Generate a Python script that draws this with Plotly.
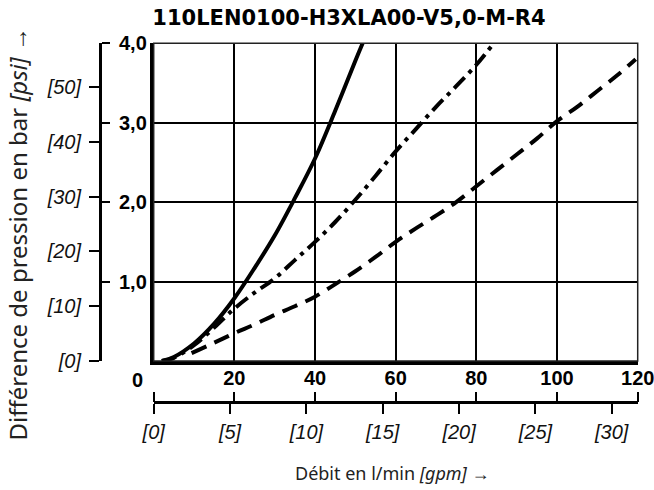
import plotly.graph_objects as go

W, H = 654, 490

# ---- data ----
solid_x = [2, 5, 10, 15, 20, 25, 30, 35, 40, 45, 50, 51.8]
solid_y = [0, 0.05, 0.22, 0.47, 0.79, 1.17, 1.58, 2.05, 2.55, 3.15, 3.78, 4.0]

dashdot_x = [2, 5, 10, 15, 20, 25, 30, 35, 40, 45, 50, 55, 60, 65, 70, 75, 80, 84.3]
dashdot_y = [0, 0.04, 0.2, 0.42, 0.66, 0.86, 1.04, 1.27, 1.5, 1.75, 2.03, 2.33, 2.64, 2.92, 3.2, 3.46, 3.73, 4.0]

dashed_x = [9.4, 15, 20, 25, 30, 35, 40, 46, 50, 55, 60, 65, 70, 75, 80, 85, 90, 95, 100, 105, 110, 115, 119.5]
dashed_y = [0.1, 0.23, 0.35, 0.46, 0.58, 0.69, 0.81, 1.0, 1.13, 1.31, 1.5, 1.67, 1.83, 2.0, 2.2, 2.4, 2.6, 2.8, 3.02, 3.2, 3.4, 3.6, 3.8]

flow_ticks = [0, 20, 40, 60, 80, 100, 120]
flow_labels = ["0", "20", "40", "60", "80", "100", "120"]
gpm_ticks = [0, 5, 10, 15, 20, 25, 30]
gpm_labels = ["[0]", "[5]", "[10]", "[15]", "[20]", "[25]", "[30]"]
bar_ticks = [1, 2, 3, 4]
bar_labels = ["1,0", "2,0", "3,0", "4,0"]
psi_ticks = [0, 10, 20, 30, 40, 50]
psi_labels = ["[0]", "[10]", "[20]", "[30]", "[40]", "[50]"]

title = "110LEN0100-H3XLA00-V5,0-M-R4"
x_title = "Débit en l/min <i>[gpm]</i> →"
y_title = "Différence de pression en bar <i>[psi]</i> →"

L_PER_GAL = 3.78541
PSI_PER_BAR = 14.5038

# ---- geometry ----
x0, x1 = 153.7, 637.7
y_top, y_bot = 43.3, 361.0
xdom = [x0 / W, x1 / W]
ydom = [(H - y_bot) / H, (H - y_top) / H]

bold_font = dict(family="Liberation Sans, Arial", size=20, color="black", weight="bold")
italic = dict(family="Liberation Sans, Arial", size=20, color="#111", style="italic")

fig = go.Figure()
fig.add_trace(go.Scatter(x=solid_x, y=solid_y, mode="lines", line=dict(color="black", width=4), line_shape="spline", showlegend=False))
fig.add_trace(go.Scatter(x=dashdot_x, y=dashdot_y, mode="lines", line=dict(color="black", width=4, dash="15px,6px,4px,6px"), line_shape="spline", showlegend=False))
fig.add_trace(go.Scatter(x=dashed_x, y=dashed_y, mode="lines", line=dict(color="black", width=4, dash="16px,9px"), line_shape="spline", showlegend=False))

# empty traces so the secondary (unit-conversion) axes get drawn
for xa, ya in [("x", "y2"), ("x", "y3"), ("x2", "y"), ("x3", "y")]:
    fig.add_trace(go.Scatter(x=[], y=[], xaxis=xa, yaxis=ya, mode="lines", showlegend=False, hoverinfo="skip"))

fig.update_layout(
    width=W, height=H,
    margin=dict(l=0, r=0, t=0, b=0, autoexpand=False),
    paper_bgcolor="white", plot_bgcolor="white",
    showlegend=False,
    title=dict(text=title, x=349 / W, y=1 - 18 / H, xanchor="center", yanchor="middle",
               automargin=False,
               font=dict(family="DejaVu Sans", size=21, color="black", weight="bold")),
    xaxis=dict(domain=xdom, range=[0, 120], tickvals=flow_ticks[1:], ticktext=flow_labels[1:],
               showgrid=True, gridcolor="black", gridwidth=1.6, showline=True, linecolor="black",
               linewidth=4, ticks="outside", ticklen=0, tickfont=bold_font, zeroline=False,
               ticklabelstandoff=-4, ticklabeloverflow="allow", anchor="y", automargin=False),
    yaxis=dict(domain=ydom, range=[0, 4], dtick=1, showgrid=True, gridcolor="black", gridwidth=1.6,
               showline=True, linecolor="black", linewidth=4, showticklabels=False, zeroline=False,
               anchor="x", automargin=False),
    yaxis2=dict(domain=ydom, overlaying="y", anchor="free", position=100 / W, side="right",
                range=[0, 4], tickvals=bar_ticks, ticktext=bar_labels, ticks="outside", ticklen=8,
                tickwidth=2, tickcolor="black", showline=True, linecolor="black", linewidth=3,
                showgrid=False, zeroline=False, tickfont=bold_font, ticklabelstandoff=5,
                automargin=False),
    yaxis3=dict(domain=ydom, overlaying="y", anchor="free", position=100 / W, side="left",
                range=[0, 4 * PSI_PER_BAR], tickvals=psi_ticks, ticktext=psi_labels, ticks="outside",
                ticklen=10, tickwidth=2, tickcolor="black", showline=True, linecolor="black",
                linewidth=3, showgrid=False, zeroline=False, tickfont=italic, ticklabelstandoff=4,
                automargin=False),
    xaxis2=dict(domain=xdom, overlaying="x", anchor="free", position=(H - 402) / H, side="bottom",
                range=[0, 120 / L_PER_GAL], tickvals=gpm_ticks, ticktext=gpm_labels, ticks="outside",
                ticklen=10, tickwidth=2, tickcolor="black", showline=True, linecolor="black",
                linewidth=3, showgrid=False, zeroline=False, tickfont=italic, ticklabelstandoff=1,
                ticklabeloverflow="allow", automargin=False),
    xaxis3=dict(domain=xdom, overlaying="x", anchor="free", position=(H - 402) / H, side="top",
                range=[0, 120], tickvals=flow_ticks, ticks="outside", ticklen=10, tickwidth=2,
                tickcolor="black", showline=False, showgrid=False, zeroline=False,
                showticklabels=False, automargin=False),
)

fig.add_shape(type="rect", xref="x domain", yref="y domain", x0=0, x1=1, y0=0, y1=1,
              line=dict(color="#222", width=1.5), layer="above")

fig.add_annotation(x=flow_ticks[0], xref="x", y=1 - 379.5 / H, yref="paper", text=flow_labels[0],
                   showarrow=False, xshift=-16, font=bold_font, xanchor="center", yanchor="middle")
fig.add_annotation(x=393 / W, y=1 - 473 / H, xref="paper", yref="paper", text=x_title, showarrow=False,
                   font=dict(family="Noto Sans", size=18, color="#222"), xanchor="center", yanchor="middle")
fig.add_annotation(x=17 / W, y=1 - 233.5 / H, xref="paper", yref="paper", text=y_title, showarrow=False,
                   textangle=-90, font=dict(family="Noto Sans", size=24, color="#222"),
                   xanchor="center", yanchor="middle")

fig.write_html("out.html")
